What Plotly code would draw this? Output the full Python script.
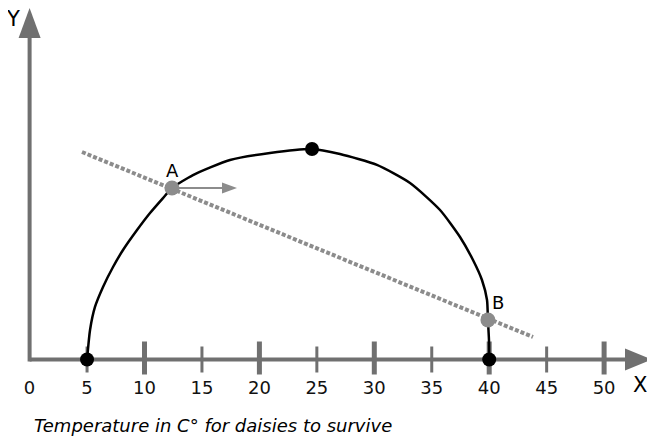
import plotly.graph_objects as go

# ---- data ----
curve_x = [5.0, 5.26, 5.69, 6.39, 7.26, 8.13, 9.35, 10.48, 11.61, 12.39, 14.22, 17.44,
           20.92, 24.58, 27.01, 30.23, 33.11, 35.72, 37.46, 38.59, 39.37, 39.81, 39.89,
           39.98, 40.0]
curve_y = [0.0, 2.57, 4.57, 6.31, 8.05, 9.53, 11.27, 12.75, 14.05, 14.92, 16.05, 17.36,
           17.97, 18.32, 17.88, 16.93, 15.36, 13.01, 10.66, 8.66, 6.92, 5.18, 3.44,
           1.70, 0.0]
key_x = [5, 24.58, 40]
key_y = [0, 18.32, 0]
trend_x = [4.56, 43.81]
trend_y = [18.06, 1.96]
ab_labels = ["A", "B"]
ab_x = [12.39, 39.89]
ab_y = [14.92, 3.44]
arrow_len = 5.66
tick_vals = [0, 5, 10, 15, 20, 25, 30, 35, 40, 45, 50]
tick_labels = ["0", "5", "10", "15", "20", "25", "30", "35", "40", "45", "50"]
major_ticks = [10, 20, 30, 40, 50]
minor_ticks = [5, 15, 25, 35, 45]
x_end = 54.17
y_end = 30.59
caption = "Temperature in C° for daisies to survive"

# pixel scale: 11.49 px per unit; page body has an 8px margin
PX = 1 / 11.49
OFF = 8
W, H = 655 - OFF, 439 - OFF
X0PX, Y0PX = 29.6 - OFF, 359.5 - OFF
AX_COL = "#707070"
PT_COL = "#8c8c8c"
FONT = "DejaVu Sans"

fig = go.Figure()
shapes = []

def tri(path_pts):
    d = "M " + " L ".join(f"{x},{y}" for x, y in path_pts) + " Z"
    return dict(type="path", path=d, xref="x", yref="y", fillcolor=AX_COL,
                line=dict(width=0), layer="below")

# axes
shapes.append(dict(type="line", x0=0, y0=0, x1=x_end - 26 * PX, y1=0, xref="x", yref="y",
                   line=dict(color=AX_COL, width=4), layer="below"))
shapes.append(dict(type="line", x0=0, y0=-2 * PX, x1=0, y1=y_end - 28 * PX, xref="x", yref="y",
                   line=dict(color=AX_COL, width=4), layer="below"))
shapes.append(tri([(x_end, 0), (x_end - 27 * PX, 11 * PX), (x_end - 27 * PX, -11 * PX)]))
shapes.append(tri([(0, y_end), (-11 * PX, y_end - 30 * PX), (11 * PX, y_end - 30 * PX)]))

# ticks
for t in major_ticks:
    shapes.append(dict(type="line", x0=t, x1=t, y0=-15 * PX, y1=18 * PX, xref="x", yref="y",
                       line=dict(color=AX_COL, width=5), layer="below"))
for t in minor_ticks:
    shapes.append(dict(type="line", x0=t, x1=t, y0=-13 * PX, y1=13 * PX, xref="x", yref="y",
                       line=dict(color=AX_COL, width=3), layer="below"))

# tick labels
fig.add_trace(go.Scatter(x=tick_vals, y=[-29.5 * PX] * len(tick_vals), mode="text",
                         text=tick_labels, textfont=dict(family=FONT, size=18, color="#111"),
                         hoverinfo="skip"))

# curve
fig.add_trace(go.Scatter(x=curve_x, y=curve_y, mode="lines",
                         line=dict(color="black", width=2.5, shape="spline", smoothing=0.6),
                         hoverinfo="skip"))
# dashed trend line
fig.add_trace(go.Scatter(x=trend_x, y=trend_y, mode="lines",
                         line=dict(color=PT_COL, width=4, dash="4px,2px"), hoverinfo="skip"))
# key black dots
fig.add_trace(go.Scatter(x=key_x, y=key_y, mode="markers",
                         marker=dict(color="black", size=14, line=dict(width=0)), hoverinfo="skip"))

# arrow from A
ax0, ay0 = ab_x[0], ab_y[0]
tip = ax0 + arrow_len
fig.add_trace(go.Scatter(x=[ax0, tip - 14 * PX], y=[ay0, ay0], mode="lines",
                         line=dict(color=PT_COL, width=2), hoverinfo="skip"))
fig.add_trace(go.Scatter(x=[tip, tip - 15 * PX, tip - 15 * PX, tip],
                         y=[ay0, ay0 + 5.5 * PX, ay0 - 5.5 * PX, ay0], mode="lines",
                         fill="toself", fillcolor=PT_COL, line=dict(width=0, color=PT_COL),
                         hoverinfo="skip"))

# A/B dots
fig.add_trace(go.Scatter(x=ab_x, y=ab_y, mode="markers",
                         marker=dict(color=PT_COL, size=15, line=dict(width=0)), hoverinfo="skip"))

annotations = [
    dict(x=ab_x[0], y=ab_y[0], text=ab_labels[0], showarrow=False, xshift=1, yshift=18,
         font=dict(family=FONT, size=18, color="black")),
    dict(x=ab_x[1], y=ab_y[1], text=ab_labels[1], showarrow=False, xshift=10, yshift=17,
         font=dict(family=FONT, size=18, color="black")),
    dict(x=-16.5 * PX, y=y_end - 11 * PX, text="Y", showarrow=False,
         font=dict(family=FONT, size=21, color="black")),
    dict(x=1.0, xref="paper", xanchor="right", xshift=-7, y=-25.5 * PX, text="X",
         showarrow=False, borderpad=0, font=dict(family=FONT, size=21, color="black")),
    dict(x=2 * PX, y=-65.5 * PX, text=f"<i>{caption}</i>", showarrow=False, xanchor="left",
         font=dict(family=FONT, size=18, color="black")),
]

fig.update_layout(
    width=W, height=H,
    margin=dict(l=0, r=0, t=0, b=0),
    paper_bgcolor="white", plot_bgcolor="white",
    showlegend=False,
    shapes=shapes, annotations=annotations,
    xaxis=dict(range=[-X0PX * PX, (W - X0PX) * PX], visible=False, fixedrange=True),
    yaxis=dict(range=[(Y0PX - H) * PX, Y0PX * PX], visible=False, fixedrange=True),
)

fig.write_html("out.html")
